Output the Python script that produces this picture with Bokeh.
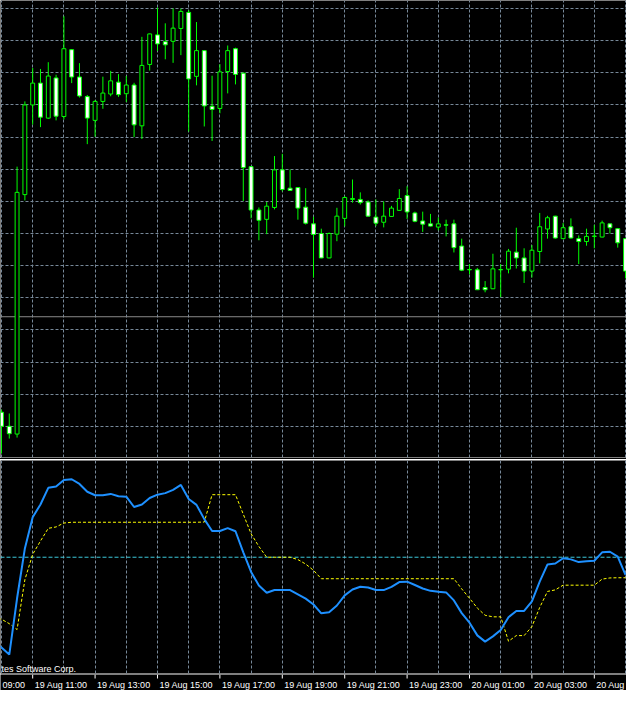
from bokeh.plotting import figure
from bokeh.models import Range1d, Grid, SingleIntervalTicker, Span, ColumnDataSource, Spacer
from bokeh.layouts import column
from bokeh.core.properties import value
from bokeh.embed import file_html
from bokeh.resources import INLINE

# ---------------- data (M15 bars, 19 Aug 10:00 onwards) ----------------
bar_idx = list(range(0, 81))

open_ = [1.41744, 1.41700, 1.41676, 1.42421, 1.42700, 1.42768, 1.42659, 1.42784, 1.42664, 1.42872,
         1.42787, 1.42726, 1.42652, 1.42711, 1.42734, 1.42771, 1.42735, 1.42762, 1.42635, 1.42826,
         1.42918, 1.42897, 1.42898, 1.42938, 1.42988, 1.42789, 1.42869, 1.42696, 1.42689, 1.42804,
         1.42875, 1.42799, 1.42508, 1.42373, 1.42344, 1.42381, 1.42498, 1.42441, 1.42443, 1.42382,
         1.42330, 1.42300, 1.42224, 1.42298, 1.42347, 1.42406, 1.42406, 1.42398, 1.42351, 1.42335,
         1.42353, 1.42372, 1.42418, 1.42364, 1.42339, 1.42330, 1.42320, 1.42327, 1.42330, 1.42261,
         1.42188, 1.42187, 1.42132, 1.42128, 1.42187, 1.42189, 1.42242, 1.42224, 1.42183, 1.42244,
         1.42314, 1.42354, 1.42284, 1.42321, 1.42284, 1.42275, 1.42291, 1.42289, 1.42330, 1.42315,
         1.42284]

high = [1.41752, 1.41740, 1.42508, 1.42711, 1.42815, 1.42812, 1.42833, 1.42794, 1.42976, 1.42874,
        1.42830, 1.42731, 1.42715, 1.42788, 1.42806, 1.42796, 1.42790, 1.42769, 1.42912, 1.42922,
        1.43003, 1.42954, 1.43000, 1.43000, 1.42995, 1.42958, 1.42871, 1.42791, 1.42827, 1.42885,
        1.42878, 1.42800, 1.42509, 1.42381, 1.42398, 1.42541, 1.42548, 1.42499, 1.42444, 1.42441,
        1.42352, 1.42315, 1.42303, 1.42380, 1.42416, 1.42468, 1.42428, 1.42403, 1.42406, 1.42400,
        1.42386, 1.42438, 1.42447, 1.42368, 1.42368, 1.42361, 1.42350, 1.42343, 1.42343, 1.42284,
        1.42205, 1.42193, 1.42152, 1.42237, 1.42205, 1.42252, 1.42318, 1.42254, 1.42264, 1.42364,
        1.42355, 1.42355, 1.42333, 1.42347, 1.42294, 1.42315, 1.42327, 1.42340, 1.42331, 1.42316,
        1.42285]

low = [1.41615, 1.41662, 1.41665, 1.42403, 1.42639, 1.42631, 1.42657, 1.42652, 1.42655, 1.42768,
       1.42723, 1.42578, 1.42601, 1.42688, 1.42727, 1.42725, 1.42709, 1.42600, 1.42594, 1.42807,
       1.42868, 1.42842, 1.42831, 1.42855, 1.42617, 1.42761, 1.42633, 1.42588, 1.42674, 1.42736,
       1.42764, 1.42401, 1.42347, 1.42279, 1.42298, 1.42375, 1.42431, 1.42433, 1.42343, 1.42328,
       1.42163, 1.42223, 1.42223, 1.42276, 1.42322, 1.42396, 1.42390, 1.42353, 1.42323, 1.42319,
       1.42352, 1.42371, 1.42345, 1.42335, 1.42305, 1.42322, 1.42310, 1.42291, 1.42241, 1.42183,
       1.42173, 1.42124, 1.42117, 1.42127, 1.42102, 1.42176, 1.42191, 1.42146, 1.42163, 1.42207,
       1.42284, 1.42284, 1.42283, 1.42284, 1.42205, 1.42262, 1.42254, 1.42288, 1.42300, 1.42256,
       1.42160]

close = [1.41700, 1.41677, 1.42428, 1.42700, 1.42768, 1.42662, 1.42790, 1.42665, 1.42875, 1.42787,
         1.42728, 1.42659, 1.42711, 1.42737, 1.42775, 1.42732, 1.42762, 1.42638, 1.42823, 1.42921,
         1.42890, 1.42887, 1.42939, 1.42991, 1.42781, 1.42869, 1.42697, 1.42686, 1.42803, 1.42869,
         1.42795, 1.42505, 1.42373, 1.42341, 1.42385, 1.42498, 1.42437, 1.42434, 1.42379, 1.42332,
         1.42297, 1.42224, 1.42300, 1.42354, 1.42412, 1.42409, 1.42396, 1.42354, 1.42332, 1.42354,
         1.42379, 1.42409, 1.42367, 1.42338, 1.42329, 1.42323, 1.42330, 1.42326, 1.42256, 1.42186,
         1.42187, 1.42125, 1.42125, 1.42190, 1.42188, 1.42245, 1.42224, 1.42183, 1.42248, 1.42321,
         1.42349, 1.42286, 1.42318, 1.42286, 1.42275, 1.42291, 1.42292, 1.42333, 1.42318, 1.42271,
         1.42183]

hline_price = 1.42041

# indicator window (bars -1 .. 80)
ind_idx = list(range(-1, 81))
main_line = [7.0, 3.8, 0.2, 29.0, 54.5, 70.5, 77.0, 85.5, 86.2, 89.5,
             89.9, 87.5, 83.5, 81.7, 81.7, 82.4, 81.2, 81.0, 75.7, 77.0,
             80.3, 82.0, 82.8, 84.5, 87.0, 79.8, 76.8, 69.5, 63.4, 63.4,
             64.9, 63.3, 52.5, 42.5, 35.5, 31.8, 33.2, 33.2, 33.2, 31.0,
             28.8, 25.8, 21.3, 21.8, 25.3, 30.5, 33.5, 34.9, 34.5, 33.2,
             33.2, 34.8, 37.3, 37.5, 35.8, 34.0, 32.8, 32.3, 32.0, 27.9,
             21.4, 16.5, 10.0, 6.8, 9.5, 12.8, 19.3, 22.5, 22.5, 27.4,
             37.5, 46.3, 46.8, 49.5, 48.9, 47.5, 47.9, 48.2, 52.5, 52.8,
             50.3, 41.0]
signal_line = [19.5, 18.3, 16.0, 13.0, 38.5, 51.5, 58.3, 64.8, 65.5, 67.5,
               67.9, 67.9, 67.9, 67.9, 67.9, 67.9, 67.9, 67.9, 67.9, 67.9,
               67.9, 67.9, 67.9, 67.9, 67.9, 67.9, 67.9, 68.0, 82.0, 82.0,
               82.0, 82.0, 72.0, 62.0, 55.5, 50.0, 50.0, 50.0, 50.0, 48.8,
               46.5, 43.3, 39.0, 39.0, 39.0, 39.0, 39.0, 39.0, 39.0, 39.0,
               39.0, 39.0, 39.0, 39.0, 39.0, 39.0, 39.0, 39.0, 39.0, 39.0,
               33.8, 29.0, 24.0, 20.3, 19.5, 19.5, 7.0, 9.9, 9.9, 14.5,
               24.3, 32.5, 33.3, 35.7, 35.7, 35.7, 35.7, 35.7, 38.8, 39.4,
               39.5, 39.5]
level = 50.0

# time-axis ticks (bar index) and the parts of their labels that show in the window
tick_idx = [-4, 4, 12, 20, 28, 36, 44, 52, 60, 68, 76]
tick_labels = ["09:00", "19 Aug 11:00", "19 Aug 13:00", "19 Aug 15:00",
               "19 Aug 17:00", "19 Aug 19:00", "19 Aug 21:00", "19 Aug 23:00",
               "20 Aug 01:00", "20 Aug 03:00", "20 Aug"]
copyright_text = "tes Software Corp."

# ---------------- styling ----------------
W = 626
GRID = "#778899"
LIME = "#00ff00"
FONT = value("Liberation Sans")
xr = Range1d(-0.125, 80.125)


def base_fig(height, y_range, border_color, top=0, bottom=0):
    p = figure(width=W, height=height, x_range=xr, y_range=y_range,
               x_axis_type=None, y_axis_type=None, toolbar_location=None,
               output_backend="svg", background_fill_color="black",
               border_fill_color=border_color, outline_line_color=None,
               min_border_left=0, min_border_right=0,
               min_border_top=top, min_border_bottom=bottom)
    return p


def vgrid(p):
    p.add_layout(Grid(dimension=0, ticker=SingleIntervalTicker(interval=4),
                      grid_line_color=GRID, grid_line_dash="3 2", grid_line_width=1))


# price window
A = base_fig(458, Range1d(1.41603, 1.43025), "white", top=0, bottom=1)
vgrid(A)
A.add_layout(Grid(dimension=1, ticker=SingleIntervalTicker(interval=0.001),
                  grid_line_color=GRID, grid_line_dash="3 2", grid_line_width=1))
A.add_layout(Span(location=hline_price, dimension="width", line_color="#8a8a8a",
                  line_width=1, level="underlay"))

src = ColumnDataSource(dict(
    x=bar_idx, o=open_, h=high, l=low, c=close,
    top=[max(o, c) for o, c in zip(open_, close)],
    bottom=[min(o, c) for o, c in zip(open_, close)],
    fill=["white" if c < o else "black" for o, c in zip(open_, close)],
))
A.segment(x0="x", y0="l", x1="x", y1="h", source=src, line_color=LIME, line_width=1)
A.vbar(x="x", width=0.5, top="top", bottom="bottom", source=src,
       fill_color="fill", line_color=LIME, line_width=1)

# indicator window
B = base_fig(215, Range1d(-9.5, 99.5), "white", top=1, bottom=1)
vgrid(B)
B.add_layout(Span(location=level, dimension="width", line_color="#3cc8dc",
                  line_dash="4 2", line_width=1, level="underlay"))
B.line(ind_idx, signal_line, line_color="#ffff00", line_width=1, line_dash="3 2")
B.line(ind_idx, main_line, line_color="#1e90ff", line_width=2)
B.text(x=[xr.start], y=[-7.0], text=[copyright_text], x_offset=1, text_color="white",
       text_font=FONT, text_font_size="9px", text_align="left",
       text_baseline="alphabetic")

# time axis strip
C = base_fig(16, Range1d(0, 16), "black")
n = len(tick_idx)
C.segment(x0=tick_idx, y0=[16] * n, x1=tick_idx, y1=[12] * n,
          line_color="white", line_width=1)
label_x = [max(t, xr.start) for t in tick_idx]
C.text(x=label_x, y=[5.3] * n, text=tick_labels, x_offset=2,
       text_color="white", text_font=FONT, text_font_size="9px",
       text_align="left", text_baseline="alphabetic")

layout = column(A, Spacer(width=W, height=1, styles={"background-color": "black"}), B, C,
                spacing=0)

open("out.html", "w").write(file_html(layout, INLINE))
